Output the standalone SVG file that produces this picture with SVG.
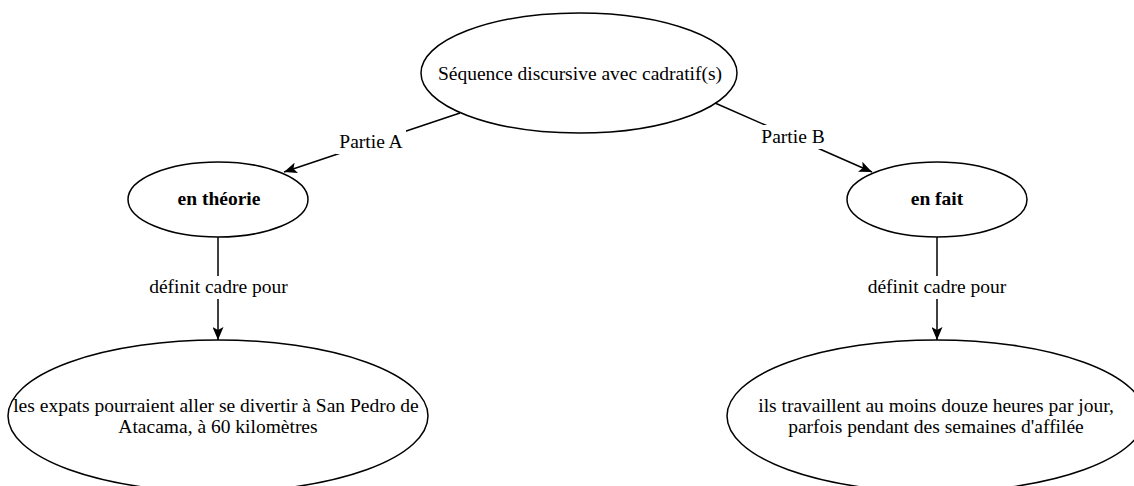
<svg xmlns="http://www.w3.org/2000/svg" width="1134" height="486" viewBox="0 0 1134 486">
<style>
.node{fill:#fff;stroke:#000;stroke-width:1.5}
.t{font-family:'Liberation Serif','Times New Roman','DejaVu Serif',serif;font-size:19.5px;fill:#000;text-anchor:middle}
.b{font-weight:bold}
.edge{fill:none;stroke:#000;stroke-width:1.5}
.lbg{fill:#fff}
</style>
<defs>
<marker id="arr" markerUnits="userSpaceOnUse" markerWidth="14" markerHeight="11" refX="13" refY="5.5" orient="auto">
<path d="M0,0 L13,5.5 L0,11 L3,5.5 Z" fill="#000"/>
</marker>
</defs>
<rect width="1134" height="486" fill="#fff"/>
<g id="connectors">
<line class="edge" x1="460" y1="113" x2="284" y2="172" marker-end="url(#arr)"/>
<rect class="lbg" x="336" y="130" width="70" height="24"/>
<text class="t" x="371" y="148" font-family="Liberation Serif, serif">Partie A</text>
<line class="edge" x1="715" y1="103" x2="872" y2="172" marker-end="url(#arr)"/>
<rect class="lbg" x="758" y="125" width="70" height="24"/>
<text class="t" x="793" y="143">Partie B</text>
<line class="edge" x1="218" y1="237" x2="218" y2="340" marker-end="url(#arr)"/>
<rect class="lbg" x="146" y="276" width="145" height="23"/>
<text class="t" x="218.5" y="293">définit cadre pour</text>
<line class="edge" x1="937" y1="237" x2="937" y2="340" marker-end="url(#arr)"/>
<rect class="lbg" x="865" y="276" width="145" height="23"/>
<text class="t" x="937" y="293">définit cadre pour</text>
</g>
<g id="n-sequence">
<ellipse class="node" cx="579" cy="73" rx="158" ry="60"/>
<text class="t" x="580" y="80">Séquence discursive avec cadratif(s)</text>
</g>
<g id="n-theorie">
<ellipse class="node" cx="218" cy="199.5" rx="90" ry="37.5"/>
<text class="t b" x="219" y="205">en théorie</text>
</g>
<g id="n-fait">
<ellipse class="node" cx="937" cy="199.5" rx="90" ry="37.5"/>
<text class="t b" x="937" y="205">en fait</text>
</g>
<g id="n-expats">
<ellipse class="node" cx="218" cy="416" rx="210" ry="76"/>
<text class="t" x="216" y="412">les expats pourraient aller se divertir à San Pedro de</text>
<text class="t" x="218" y="433">Atacama, à 60 kilomètres</text>
</g>
<g id="n-travail">
<ellipse class="node" cx="936" cy="416" rx="209" ry="76"/>
<text class="t" x="936" y="412">ils travaillent au moins douze heures par jour,</text>
<text class="t" x="936" y="433">parfois pendant des semaines d'affilée</text>
</g>
</svg>
